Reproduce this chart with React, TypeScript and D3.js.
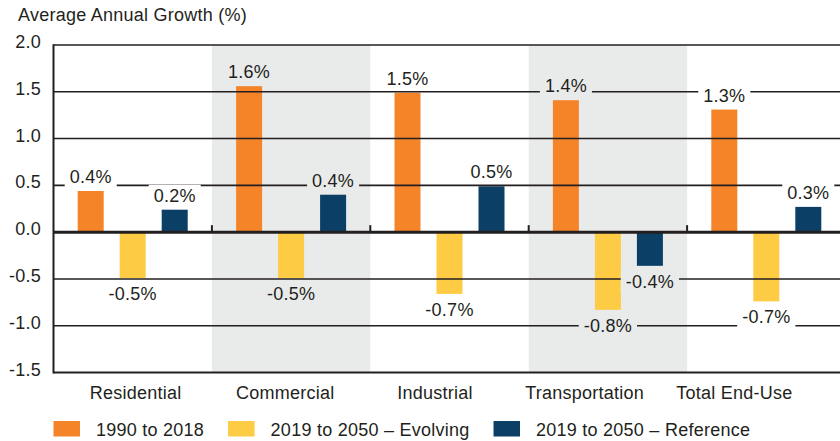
import React, { useEffect, useRef } from "react";
import * as d3 from "d3";

const categories = ["Residential", "Commercial", "Industrial", "Transportation", "Total End-Use"];
const seriesNames = ["1990 to 2018", "2019 to 2050 – Evolving", "2019 to 2050 – Reference"];
const historic = [0.44, 1.56, 1.49, 1.41, 1.31];
const evolving = [-0.49, -0.49, -0.66, -0.83, -0.74];
const reference = [0.24, 0.4, 0.49, -0.36, 0.27];
const yTicks = [-1.5, -1.0, -0.5, 0.0, 0.5, 1.0, 1.5, 2.0];
const shadedCategories = ["Commercial", "Transportation"];
const colors = ["#f58428", "#fecb45", "#0c3f66"];
const yTitle = "Average Annual Growth (%)";

const W = 840;
const H = 441;
const FONT = "'Liberation Sans', Arial, Helvetica, sans-serif";
const INK = "#231f20";
const SHADE = "#e9eaea";

export default function App() {
  const ref = useRef<SVGSVGElement | null>(null);

  useEffect(() => {
    const svg = d3.select(ref.current);
    svg.selectAll("*").remove();

    const x = d3.scaleBand<string>().domain(categories).range([53.5, 845.5]).paddingInner(0).paddingOuter(0);
    const bw = x.bandwidth();
    const sub = d3.scaleBand<string>().domain(seriesNames).range([-63, 63]).paddingInner(16 / 42).paddingOuter(8 / 42);
    const y = d3.scaleLinear().domain([-1.5, 2.0]).range([372.5, 45]);
    const labelX = d3
      .scalePoint<string>()
      .domain(categories)
      .range([x(categories[0])! + bw / 2 + 3, x(categories[4])! + bw / 2 - 32]);

    const g = svg
      .append("g")
      .attr("font-family", FONT)
      .attr("font-size", 18)
      .attr("letter-spacing", 0.25)
      .attr("fill", INK);

    // shaded bands
    g.selectAll("rect.shade")
      .data(categories.filter((c) => shadedCategories.includes(c)))
      .join("rect")
      .attr("x", (d) => x(d)!)
      .attr("y", y(2))
      .attr("width", bw)
      .attr("height", y(-1.5) - y(2))
      .attr("fill", SHADE);

    // bars
    const seriesData = [historic, evolving, reference];
    const bars: { cat: string; s: string; v: number; i: number }[] = [];
    categories.forEach((c, ci) => {
      seriesNames.forEach((s, si) => bars.push({ cat: c, s, v: seriesData[si][ci], i: si }));
    });
    g.selectAll("rect.bar")
      .data(bars)
      .join("rect")
      .attr("x", (d) => x(d.cat)! + bw / 2 + sub(d.s)!)
      .attr("y", (d) => y(Math.max(0, d.v)))
      .attr("width", sub.bandwidth())
      .attr("height", (d) => Math.abs(y(d.v) - y(0)))
      .attr("fill", (d) => colors[d.i]);

    // gridlines
    g.selectAll("line.grid")
      .data(yTicks.filter((t) => t !== 0 && t !== -1.5))
      .join("line")
      .attr("x1", 53.5)
      .attr("x2", W)
      .attr("y1", (d) => y(d))
      .attr("y2", (d) => y(d))
      .attr("stroke", INK)
      .attr("stroke-width", 1.6);

    // value labels with background
    const fmt = (v: number) => v.toFixed(1) + "%";
    bars.forEach((d) => {
      const cx = x(d.cat)! + bw / 2 + sub(d.s)! + sub.bandwidth() / 2;
      const base = d.v >= 0 ? y(d.v) - 8 : y(d.v) + 22;
      const bg = shadedCategories.includes(d.cat) ? SHADE : "#ffffff";
      const rect = g.append("rect").attr("fill", bg);
      const t = g
        .append("text")
        .attr("x", cx)
        .attr("y", base)
        .attr("text-anchor", "middle")
        .text(fmt(d.v));
      const w = (t.node() as SVGTextElement).getComputedTextLength();
      rect
        .attr("x", cx - w / 2 - 5)
        .attr("y", base - 17)
        .attr("width", w + 10)
        .attr("height", 21);
    });

    // zero line, bottom line, y axis
    g.append("line").attr("x1", 53.5).attr("x2", W).attr("y1", y(0)).attr("y2", y(0)).attr("stroke", INK).attr("stroke-width", 3);
    g.append("line").attr("x1", 53.5).attr("x2", W).attr("y1", y(-1.5)).attr("y2", y(-1.5)).attr("stroke", INK).attr("stroke-width", 2);
    g.append("line").attr("x1", 53.5).attr("x2", 53.5).attr("y1", y(2) - 0.8).attr("y2", y(-1.5) + 1).attr("stroke", INK).attr("stroke-width", 2);

    // boundary ticks on zero line
    g.selectAll("line.btick")
      .data(categories.slice(1))
      .join("line")
      .attr("x1", (d) => x(d)!)
      .attr("x2", (d) => x(d)!)
      .attr("y1", y(0))
      .attr("y2", y(0) - 7)
      .attr("stroke", INK)
      .attr("stroke-width", 2);

    // y tick labels
    g.selectAll("text.ytick")
      .data(yTicks)
      .join("text")
      .attr("x", 41)
      .attr("y", (d) => y(d) + 3)
      .attr("text-anchor", "end")
      .text((d) => d.toFixed(1));

    // title
    g.append("text").attr("x", 18).attr("y", 21).text(yTitle);

    // category labels
    g.selectAll("text.cat")
      .data(categories)
      .join("text")
      .attr("x", (d) => labelX(d)!)
      .attr("y", 399)
      .attr("text-anchor", "middle")
      .text((d) => d);

    // legend
    let lx = 53.5;
    seriesNames.forEach((s, i) => {
      g.append("rect").attr("x", lx).attr("y", 421).attr("width", 26.5).attr("height", 15.5).attr("fill", colors[i]);
      const t = g.append("text").attr("x", lx + 42.5).attr("y", 435.7).text(s);
      const w = (t.node() as SVGTextElement).getComputedTextLength();
      lx = lx + 42.5 + w + 24;
    });
  }, []);

  return (
    <svg
      ref={ref}
      width={W}
      height={H}
      style={{ position: "absolute", left: 0, top: 0, background: "#ffffff" }}
    />
  );
}
